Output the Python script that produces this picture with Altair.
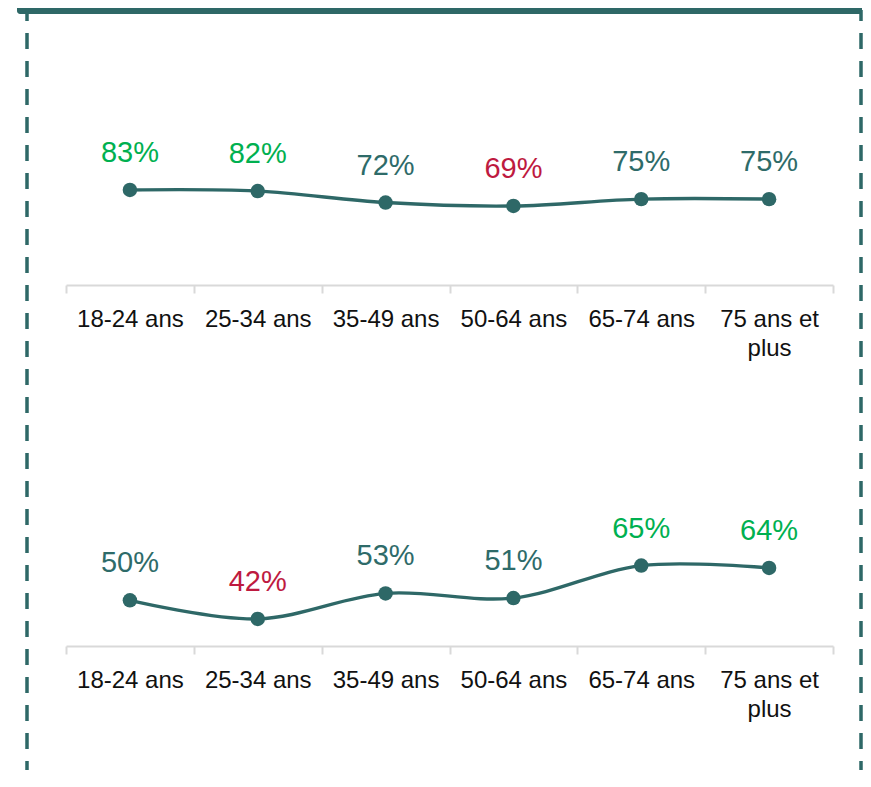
import altair as alt
import pandas as pd

categories = ["18-24 ans", "25-34 ans", "35-49 ans", "50-64 ans", "65-74 ans", "75 ans et plus"]
top_values = [83, 82, 72, 69, 75, 75]
top_status = ["haut", "haut", "moyen", "bas", "moyen", "moyen"]
bottom_values = [50, 42, 53, 51, 65, 64]
bottom_status = ["moyen", "bas", "moyen", "moyen", "haut", "haut"]

status_domain = ["haut", "moyen", "bas"]
status_colors = ["#00B050", "#2E6B69", "#BE1A3F"]

TEAL = "#2E6867"
FONT = "Liberation Sans"
W = 767


def panel(values, status, height, ydomain, decor):
    df = pd.DataFrame({
        "cat": categories,
        "val": values,
        "status": status,
        "label": [f"{v}%" for v in values],
    })
    x = alt.X(
        "cat:N", sort=categories,
        scale=alt.Scale(type="band", paddingInner=0, paddingOuter=0),
        axis=alt.Axis(
            title=None, labelAngle=0, domainColor="#D9D9D9", domainWidth=2,
            tickColor="#D9D9D9", tickWidth=2, tickSize=8, tickBand="extent",
            labelPadding=14, labelFontSize=24, labelFont=FONT, labelColor="#111111",
            labelLineHeight=29, labelLimit=0,
            labelExpr="datum.label == '75 ans et plus' ? ['75 ans et', 'plus'] : datum.label",
        ),
    )
    y = alt.Y("val:Q", scale=alt.Scale(domain=ydomain, zero=False, nice=False), axis=None)
    base = alt.Chart(df).encode(x=x, y=y)
    line = base.mark_line(color=TEAL, strokeWidth=3.4, interpolate="cardinal")
    pts = base.mark_circle(size=210, color=TEAL, opacity=1)
    txt = base.mark_text(dy=-28, baseline="alphabetic", fontSize=29, font=FONT).encode(
        text="label:N",
        color=alt.Color("status:N", scale=alt.Scale(domain=status_domain, range=status_colors), legend=None),
    )
    return alt.layer(line, pts, txt, *decor).properties(width=W, height=height)


deco_df = pd.DataFrame({"d": [0]})
top_bar = alt.Chart(deco_df).mark_rect(color=TEAL, cornerRadiusBottomLeft=3, cornerRadiusBottomRight=2).encode(
    x=alt.value(-49), x2=alt.value(796), y=alt.value(0), y2=alt.value(6)
)
left_dash = alt.Chart(deco_df).mark_rule(color=TEAL, strokeWidth=3.5, strokeDash=[16, 12], strokeDashOffset=5).encode(
    x=alt.value(-39), y=alt.value(2), y2=alt.value(762)
)
right_dash = alt.Chart(deco_df).mark_rule(color=TEAL, strokeWidth=3.5, strokeDash=[16, 12], strokeDashOffset=5).encode(
    x=alt.value(795), y=alt.value(2), y2=alt.value(762)
)

top_h = 277
bot_h = 200
top_chart = panel(top_values, top_status, top_h, [0, top_h / 1.145], [top_bar, left_dash, right_dash])
bottom_chart = panel(bottom_values, bottom_status, bot_h, [30.3, 30.3 + bot_h / 2.317], [])

chart = alt.vconcat(top_chart, bottom_chart, spacing=161, bounds="flush").properties(
    padding={"left": 9, "top": 0, "right": 0, "bottom": 0}
).configure_view(stroke=None)

chart.save("out.html", embed_options={"renderer": "svg", "actions": False})
